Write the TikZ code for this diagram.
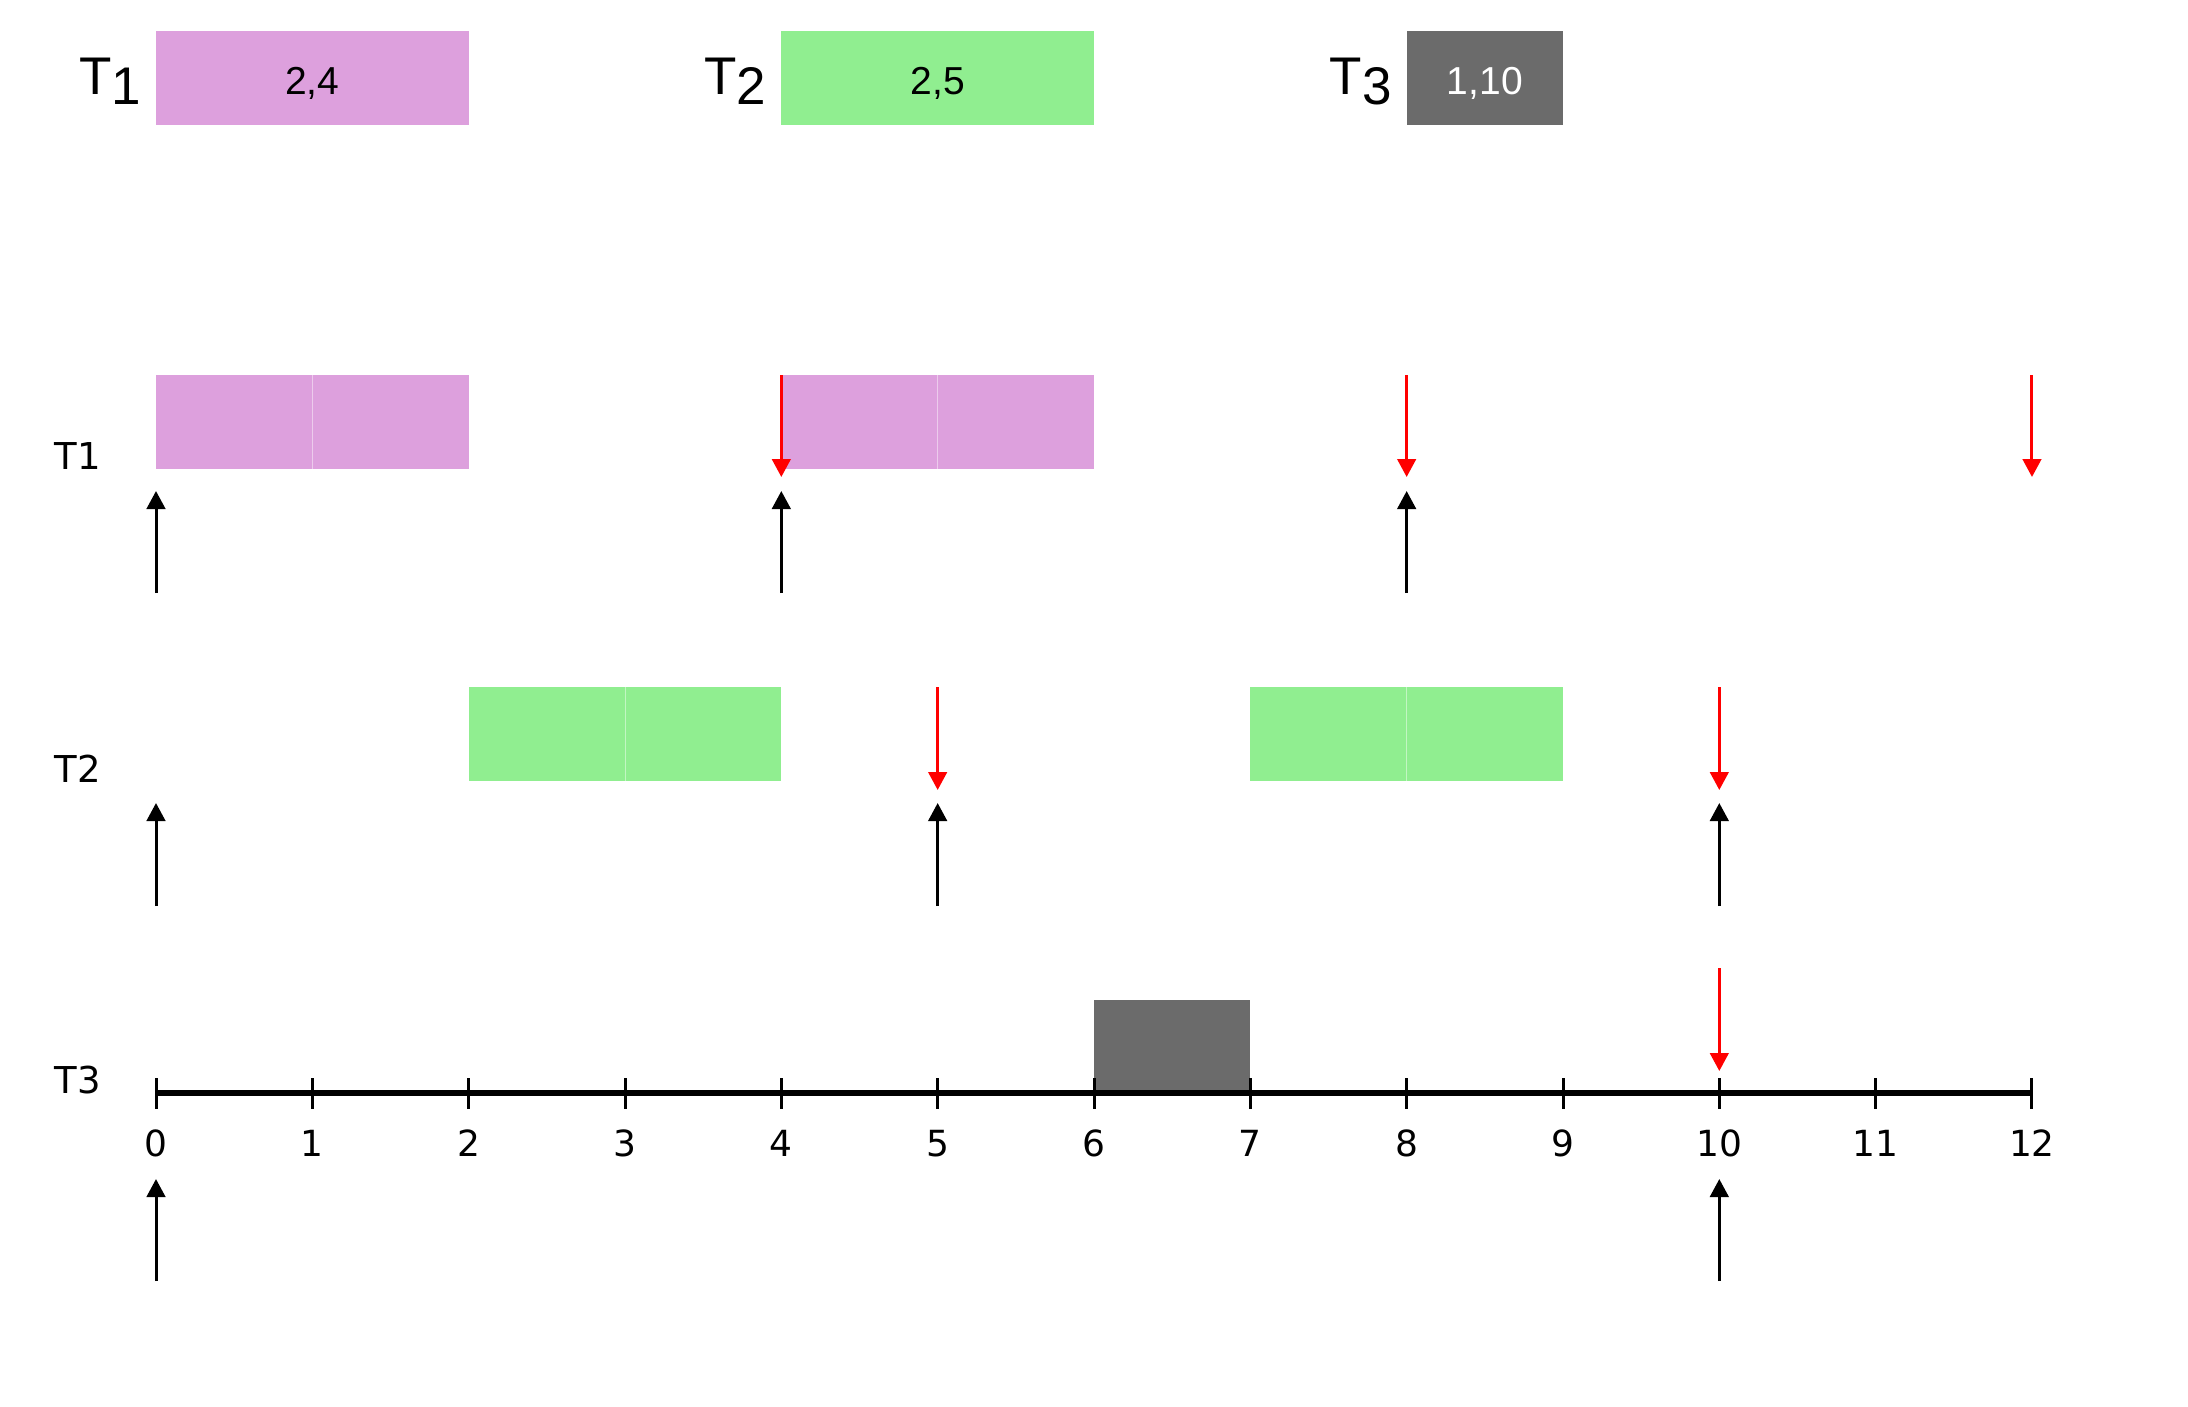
\documentclass[tikz,border=0pt]{standalone}
\usepackage{fontspec}
\setmainfont{DejaVu Sans}
\newfontfamily\arialfont{Liberation Sans}
\usetikzlibrary{arrows.meta}
\definecolor{pinkc}{HTML}{DDA0DD}
\definecolor{greenc}{HTML}{90EE90}
\definecolor{greyc}{HTML}{6B6B6B}
\definecolor{redc}{HTML}{FF0000}
\tikzset{
  slot/.style={draw=none, inner sep=0pt, outer sep=0pt, anchor=north west, minimum height=94pt},
  pinkslot/.style={slot, fill=pinkc},
  greenslot/.style={slot, fill=greenc},
  greyslot/.style={slot, fill=greyc},
  divider/.style={line width=1pt},
  release/.style={line width=3pt, -{Triangle[width=18.5pt,length=18pt]}, black},
  deadline/.style={line width=3pt, -{Triangle[width=18.5pt,length=18pt]}, redc},
  rowlabel/.style={inner sep=0pt, anchor=base west, font=\fontsize{37pt}{40pt}\selectfont},
  ticklabel/.style={inner sep=0pt, anchor=base, font=\fontsize{36pt}{40pt}\selectfont},
  legendlabel/.style={inner sep=0pt, anchor=base west, font=\arialfont\fontsize{53pt}{56pt}\selectfont},
  legendtext/.style={font=\arialfont\fontsize{39pt}{42pt}\selectfont, text height=32pt, text depth=0pt}
}
\begin{document}
\begin{tikzpicture}[x=156.33pt, y=-1pt]
\useasboundingbox[fill=white] (-0.99789,0) rectangle (12.99802,1406);

% legend
\node[pinkslot, minimum width=312.66pt, legendtext] (L1) at (0,31) {2,4};
\node[greenslot, minimum width=312.66pt, legendtext] (L2) at (4,31) {2,5};
\node[greyslot, minimum width=156.33pt, legendtext, text=white] (L3) at (8,31) {1,10};
\node[legendlabel] (N1) at (-0.4925,94) {T\raisebox{-10pt}{1}};
\node[legendlabel] (N2) at (3.5075,94) {T\raisebox{-10pt}{2}};
\node[legendlabel] (N3) at (7.5075,94) {T\raisebox{-10pt}{3}};

% row labels
\node[rowlabel] (R1) at (-0.65,469) {T1};
\node[rowlabel] (R2) at (-0.65,782) {T2};
\node[rowlabel] (R3) at (-0.65,1093) {T3};

% row 1 boxes
\node[pinkslot, minimum width=312.66pt] (A1) at (0,375) {};
\node[pinkslot, minimum width=312.66pt] (A2) at (4,375) {};
\draw[divider, draw=pinkc!55!white] (A1.north) -- (A1.south);
\draw[divider, draw=pinkc!55!white] (A2.north) -- (A2.south);

% row 2 boxes
\node[greenslot, minimum width=312.66pt] (B1) at (2,687) {};
\node[greenslot, minimum width=312.66pt] (B2) at (7,687) {};
\draw[divider, draw=greenc!55!white] (B1.north) -- (B1.south);
\draw[divider, draw=greenc!55!white] (B2.north) -- (B2.south);

% row 3 box
\node[greyslot, minimum width=156.33pt, minimum height=93pt] (C1) at (6,1000) {};

% axis
\coordinate (ax0) at (0,1093);
\coordinate (ax12) at (12,1093);
\draw[line width=6.5pt] (ax0) -- (ax12);
\foreach \i in {0,...,12}{
  \coordinate (tt\i) at (\i,1078);
  \coordinate (tb\i) at (\i,1109);
  \draw[line width=3pt] (tt\i) -- (tb\i);
  \node[ticklabel] (lab\i) at (\i,1156) {\i};
}

% row 1 arrows
\foreach \i in {0,4,8}{
  \coordinate (r1s\i) at (\i,593);
  \coordinate (r1e\i) at (\i,491);
  \draw[release] (r1s\i) -- (r1e\i);
}
\foreach \i in {4,8,12}{
  \coordinate (d1s\i) at (\i,375);
  \coordinate (d1e\i) at (\i,477);
  \draw[deadline] (d1s\i) -- (d1e\i);
}

% row 2 arrows
\foreach \i in {0,5,10}{
  \coordinate (r2s\i) at (\i,906);
  \coordinate (r2e\i) at (\i,803);
  \draw[release] (r2s\i) -- (r2e\i);
}
\foreach \i in {5,10}{
  \coordinate (d2s\i) at (\i,687);
  \coordinate (d2e\i) at (\i,790);
  \draw[deadline] (d2s\i) -- (d2e\i);
}

% row 3 arrows
\foreach \i in {0,10}{
  \coordinate (r3s\i) at (\i,1281);
  \coordinate (r3e\i) at (\i,1179);
  \draw[release] (r3s\i) -- (r3e\i);
}
\coordinate (d3s10) at (10,968);
\coordinate (d3e10) at (10,1071);
\draw[deadline] (d3s10) -- (d3e10);
\end{tikzpicture}
\end{document}
